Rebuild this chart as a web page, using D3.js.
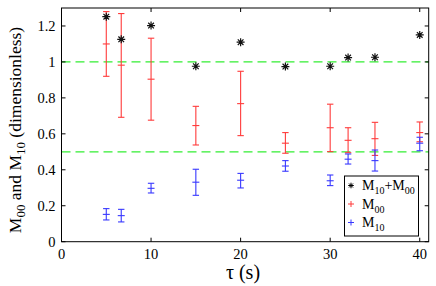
<!DOCTYPE html>
<html>
<head>
<meta charset="utf-8">
<script src="https://cdn.jsdelivr.net/npm/d3@7"></script>
<style>
    body { margin: 0; background: #fff; }
</style>
</head>
<body>
<svg id="chart" width="436" height="286" font-family="'Liberation Serif', 'Times New Roman', Times, serif"></svg>
<script>
// tau (s) for every measurement
var tau = [5, 6.67, 10, 15, 20, 25, 30, 32, 35, 40];

// M10 + M00 (black asterisks)
var mSum = [1.252, 1.126, 1.202, 0.976, 1.110, 0.974, 0.976, 1.024, 1.026, 1.150];

// M00 mean with lower / upper error bar ends (red)
var m00 = [1.100, 0.982, 0.904, 0.646, 0.768, 0.548, 0.634, 0.564, 0.573, 0.607];
var m00Lo = [0.920, 0.692, 0.676, 0.538, 0.590, 0.492, 0.501, 0.495, 0.480, 0.556];
var m00Hi = [1.280, 1.269, 1.132, 0.753, 0.948, 0.607, 0.765, 0.634, 0.664, 0.666];

// M10 mean with lower / upper error bar ends (blue)
var m10 = [0.152, 0.145, 0.297, 0.331, 0.342, 0.421, 0.339, 0.459, 0.451, 0.548];
var m10Lo = [0.121, 0.110, 0.271, 0.258, 0.299, 0.392, 0.312, 0.432, 0.393, 0.506];
var m10Hi = [0.184, 0.180, 0.325, 0.403, 0.380, 0.451, 0.371, 0.488, 0.510, 0.581];

// reference levels (green dashed)
var refLevels = [1, 0.5];

var xTicks = [0, 10, 20, 30, 40];
var yTicks = [0, 0.2, 0.4, 0.6, 0.8, 1, 1.2];

var svg = d3.select('#chart');

// note: "top" is a reserved window global, so use plot* names
var plotLeft = 61.5, plotRight = 428.7, plotTop = 8, plotBottom = 241.7;
var x = d3.scaleLinear().domain([0, 41]).range([plotLeft, plotRight]);
var y = d3.scaleLinear().domain([0, 1.3]).range([plotBottom, plotTop]);

var red = '#ff3b3b';
var blue = '#3838ff';
var green = '#33ee33';

// reference lines
svg.append('g').selectAll('line')
    .data(refLevels)
    .enter().append('line')
    .attr('x1', plotLeft).attr('x2', plotRight)
    .attr('y1', function(d){ return y(d); })
    .attr('y2', function(d){ return y(d); })
    .attr('stroke', green)
    .attr('stroke-width', 1.3)
    .attr('stroke-dasharray', '9,5');

var drawErrorBars = function(vals, lo, hi, color)
{
    var g = svg.append('g').attr('stroke', color).attr('stroke-width', 1.1);
    var cap = 3.2;
    for (var i = 0; i < tau.length; i++) {
        var cx = x(tau[i]);
        g.append('line').attr('x1', cx).attr('x2', cx).attr('y1', y(lo[i])).attr('y2', y(hi[i]));
        g.append('line').attr('x1', cx - cap).attr('x2', cx + cap).attr('y1', y(lo[i])).attr('y2', y(lo[i]));
        g.append('line').attr('x1', cx - cap).attr('x2', cx + cap).attr('y1', y(hi[i])).attr('y2', y(hi[i]));
        // '+' marker at mean
        g.append('line').attr('x1', cx - 3.5).attr('x2', cx + 3.5).attr('y1', y(vals[i])).attr('y2', y(vals[i]));
    }
};

drawErrorBars(m00, m00Lo, m00Hi, red);
drawErrorBars(m10, m10Lo, m10Hi, blue);

// matlab style '*' marker
var starPath = function(cx, cy, r)
{
    var p = '';
    var d = r * 0.7071;
    p += 'M' + (cx - r) + ',' + cy + 'L' + (cx + r) + ',' + cy;
    p += 'M' + cx + ',' + (cy - r) + 'L' + cx + ',' + (cy + r);
    p += 'M' + (cx - d) + ',' + (cy - d) + 'L' + (cx + d) + ',' + (cy + d);
    p += 'M' + (cx - d) + ',' + (cy + d) + 'L' + (cx + d) + ',' + (cy - d);
    return p;
};

svg.append('g').selectAll('path')
    .data(tau)
    .enter().append('path')
    .attr('d', function(d, i){ return starPath(x(d), y(mSum[i]), 4); })
    .attr('stroke', '#111')
    .attr('stroke-width', 1.2)
    .attr('fill', 'none');

// frame with inward ticks
svg.append('rect')
    .attr('x', plotLeft).attr('y', plotTop)
    .attr('width', plotRight - plotLeft).attr('height', plotBottom - plotTop)
    .attr('fill', 'none').attr('stroke', '#000').attr('stroke-width', 1);

var tickLen = 4;
var tk = svg.append('g').attr('stroke', '#000').attr('stroke-width', 1);
xTicks.forEach(function(t){
    tk.append('line').attr('x1', x(t)).attr('x2', x(t)).attr('y1', plotBottom).attr('y2', plotBottom - tickLen);
    tk.append('line').attr('x1', x(t)).attr('x2', x(t)).attr('y1', plotTop).attr('y2', plotTop + tickLen);
});
yTicks.forEach(function(t){
    tk.append('line').attr('x1', plotLeft).attr('x2', plotLeft + tickLen).attr('y1', y(t)).attr('y2', y(t));
    tk.append('line').attr('x1', plotRight).attr('x2', plotRight - tickLen).attr('y1', y(t)).attr('y2', y(t));
});

svg.append('g').selectAll('text')
    .data(xTicks)
    .enter().append('text')
    .attr('x', function(d){ return x(d); })
    .attr('y', 258.5)
    .attr('text-anchor', 'middle')
    .attr('font-size', 14.5)
    .text(function(d){ return d; });

svg.append('g').selectAll('text')
    .data(yTicks)
    .enter().append('text')
    .attr('x', plotLeft - 6)
    .attr('y', function(d){ return y(d) + 5; })
    .attr('text-anchor', 'end')
    .attr('font-size', 14.5)
    .text(function(d){ return d; });

// axis labels
svg.append('text')
    .attr('x', 243).attr('y', 279)
    .attr('text-anchor', 'middle')
    .attr('font-size', 20)
    .text('\u03c4 (s)');

var yl = svg.append('text')
    .attr('transform', 'translate(21,130) rotate(-90)')
    .attr('text-anchor', 'middle')
    .attr('font-size', 17.5);
yl.append('tspan').text('M');
yl.append('tspan').attr('dy', 4).attr('font-size', 13).text('00');
yl.append('tspan').attr('dy', -4).text(' and M');
yl.append('tspan').attr('dy', 4).attr('font-size', 13).text('10');
yl.append('tspan').attr('dy', -4).text(' (dimensionless)');

// legend
var lg = svg.append('g');
lg.append('rect')
    .attr('x', 344.5).attr('y', 176)
    .attr('width', 74).attr('height', 60)
    .attr('fill', '#fff').attr('stroke', '#000').attr('stroke-width', 1);

var legendRows = [
    { label: ['M', '10', '+M', '00'], color: '#000', star: true, cy: 185.5 },
    { label: ['M', '00'], color: red, star: false, cy: 204 },
    { label: ['M', '10'], color: blue, star: false, cy: 222.5 }
];

legendRows.forEach(function(r){
    if (r.star) {
        lg.append('path').attr('d', starPath(351, r.cy, 2.8))
            .attr('stroke', '#000').attr('stroke-width', 1).attr('fill', 'none');
    } else {
        lg.append('path')
            .attr('d', 'M' + 348 + ',' + r.cy + 'L' + 354 + ',' + r.cy + 'M351,' + (r.cy - 3) + 'L351,' + (r.cy + 3))
            .attr('stroke', r.color).attr('stroke-width', 1);
    }
    var t = lg.append('text').attr('x', 362).attr('y', r.cy + 4.5).attr('font-size', 14);
    for (var i = 0; i < r.label.length; i++) {
        if (i % 2 === 1) {
            t.append('tspan').attr('dy', 4).attr('font-size', 10).text(r.label[i]);
        } else {
            t.append('tspan').attr('dy', i === 0 ? 0 : -4).text(r.label[i]);
        }
    }
});
</script>
</body>
</html>
